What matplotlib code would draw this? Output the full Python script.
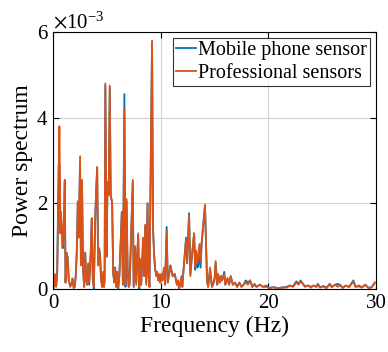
import numpy as np
import matplotlib.pyplot as plt
from matplotlib.ticker import ScalarFormatter

plt.rcParams['font.family'] = ['Liberation Serif', 'DejaVu Serif']
plt.rcParams['mathtext.fontset'] = 'stix'

# frequency (Hz), power spectrum values (x1e-3)
freq = [0.00, 0.09, 0.19, 0.28, 0.37, 0.51, 0.58, 0.68, 0.72, 0.80, 0.88, 0.98, 1.08, 1.15, 1.25,
        1.35, 1.45, 1.58, 1.70, 1.80, 1.90, 2.00, 2.10, 2.20, 2.29, 2.38, 2.50, 2.58, 2.68, 2.78,
        2.88, 2.98, 3.07, 3.16, 3.25, 3.35, 3.50, 3.59, 3.68, 3.78, 3.90, 4.00, 4.09, 4.18, 4.27,
        4.36, 4.45, 4.55, 4.65, 4.72, 4.78, 4.85, 4.97, 5.05, 5.16, 5.26, 5.35, 5.48, 5.58, 5.67,
        5.76, 5.86, 5.95, 6.05, 6.15, 6.25, 6.38, 6.48, 6.62, 6.72, 6.82, 6.92, 7.02, 7.10, 7.20,
        7.40, 7.48, 7.62, 7.72, 7.90, 8.00, 8.08, 8.18, 8.36, 8.45, 8.55, 8.65, 8.77, 8.86, 8.95,
        9.19, 9.28, 9.38, 9.47, 9.58, 9.66, 9.76, 9.85, 9.94, 10.05, 10.15, 10.30, 10.40, 10.55, 10.65,
        10.90, 11.10, 11.30, 11.50, 11.60, 11.70, 11.95, 12.00, 12.10, 12.35, 12.45, 12.63, 12.75, 12.90, 13.10,
        13.20, 13.30, 13.40, 13.50, 13.60, 13.70, 13.80, 14.11, 14.30, 14.40, 14.58, 14.75, 14.85, 15.00, 15.10,
        15.25, 15.35, 15.50, 15.60, 15.70, 15.90, 16.00, 16.20, 16.35, 16.50, 16.70, 16.90, 17.10, 17.30, 17.50,
        17.70, 17.90, 18.10, 18.30, 18.50, 18.70, 18.90, 19.20, 19.50, 19.80, 20.10, 20.50, 20.90, 21.30, 21.70,
        22.00, 22.30, 22.60, 22.80, 23.00, 23.20, 23.40, 23.70, 23.95, 24.20, 24.45, 24.60, 24.80, 25.10, 25.40,
        25.70, 25.90, 26.20, 26.45, 26.70, 26.90, 27.20, 27.50, 27.90, 28.10, 28.40, 28.70, 29.00, 29.30, 29.60,
        29.90]

professional = [0.00, 0.10, 0.35, 0.05, 0.30, 2.50, 3.80, 1.30, 1.80, 1.50, 1.00, 1.40, 2.55, 0.15, 0.85,
                0.70, 0.20, 0.05, 0.10, 0.25, 0.02, 0.05, 0.30, 0.90, 2.05, 1.20, 3.10, 0.55, 2.55, 0.50,
                0.05, 0.85, 0.20, 0.10, 0.60, 0.15, 0.90, 1.65, 0.20, 0.05, 1.60, 2.35, 2.85, 0.55, 0.95,
                0.75, 0.20, 0.05, 0.40, 0.05, 0.20, 4.80, 0.75, 2.50, 2.20, 4.75, 2.15, 2.05, 0.40, 0.15,
                0.50, 0.05, 0.40, 0.05, 0.30, 0.90, 1.80, 0.10, 4.20, 0.10, 2.10, 0.50, 0.05, 0.10, 0.90,
                2.55, 0.05, 1.00, 0.10, 1.30, 0.05, 0.70, 0.10, 1.20, 0.30, 1.50, 0.10, 2.00, 0.30, 0.05,
                5.80, 1.40, 0.80, 0.50, 0.30, 0.40, 0.20, 0.35, 0.15, 0.35, 0.20, 0.50, 0.10, 1.35, 0.15,
                0.55, 0.30, 0.35, 0.10, 0.20, 0.00, 0.30, 0.05, 0.40, 1.15, 0.60, 1.72, 0.30, 0.80, 1.30,
                0.50, 0.90, 0.60, 0.75, 1.05, 0.65, 1.10, 1.97, 0.20, 0.05, 0.50, 0.05, 0.10, 0.20, 0.65,
                0.10, 0.35, 0.15, 0.30, 0.20, 0.35, 0.10, 0.25, 0.10, 0.30, 0.10, 0.15, 0.05, 0.15, 0.05,
                0.10, 0.15, 0.10, 0.20, 0.05, 0.10, 0.05, 0.10, 0.05, 0.05, 0.02, 0.04, 0.02, 0.04, 0.03,
                0.08, 0.05, 0.15, 0.10, 0.18, 0.12, 0.05, 0.08, 0.03, 0.08, 0.05, 0.10, 0.03, 0.06, 0.02,
                0.10, 0.04, 0.10, 0.05, 0.10, 0.02, 0.08, 0.04, 0.18, 0.05, 0.06, 0.03, 0.10, 0.02, 0.04,
                0.15]

mobile = [0.00, 0.10, 0.30, 0.10, 0.30, 2.90, 2.90, 1.30, 1.60, 1.40, 0.95, 1.30, 2.50, 0.15, 0.80,
          0.75, 0.20, 0.10, 0.10, 0.20, 0.05, 0.05, 0.30, 0.90, 2.00, 1.25, 2.90, 0.60, 2.50, 0.45,
          0.05, 0.85, 0.20, 0.10, 0.55, 0.10, 0.90, 1.65, 0.25, 0.00, 1.55, 2.30, 2.80, 0.60, 0.95,
          0.80, 0.30, 0.05, 0.35, 0.05, 0.20, 4.75, 0.80, 2.45, 2.20, 4.70, 2.20, 2.00, 0.35, 0.20,
          0.50, 0.05, 0.40, 0.00, 0.30, 0.95, 1.80, 0.10, 4.55, 0.05, 2.05, 0.45, 0.05, 0.10, 0.85,
          2.50, 0.05, 0.95, 0.15, 1.25, 0.00, 0.65, 0.10, 1.15, 0.35, 1.45, 0.15, 2.00, 0.35, 0.05,
          5.75, 1.40, 0.85, 0.45, 0.35, 0.40, 0.20, 0.30, 0.15, 0.35, 0.20, 0.45, 0.10, 1.45, 0.15,
          0.55, 0.30, 0.35, 0.10, 0.20, 0.00, 0.30, 0.05, 0.40, 1.20, 0.60, 1.77, 0.35, 0.75, 1.30,
          0.45, 0.85, 0.50, 0.55, 1.00, 0.50, 1.05, 1.95, 0.20, 0.05, 0.45, 0.05, 0.10, 0.25, 0.60,
          0.10, 0.30, 0.15, 0.30, 0.20, 0.40, 0.10, 0.25, 0.10, 0.30, 0.10, 0.15, 0.05, 0.15, 0.05,
          0.10, 0.20, 0.15, 0.20, 0.05, 0.12, 0.05, 0.10, 0.05, 0.08, 0.03, 0.04, 0.02, 0.03, 0.05,
          0.08, 0.06, 0.18, 0.12, 0.20, 0.13, 0.06, 0.08, 0.05, 0.08, 0.05, 0.12, 0.04, 0.07, 0.03,
          0.12, 0.05, 0.10, 0.12, 0.08, 0.03, 0.08, 0.05, 0.20, 0.05, 0.08, 0.04, 0.10, 0.03, 0.04,
          0.15]

freq = np.array(freq)
professional = np.array(professional) * 1e-3
mobile = np.array(mobile) * 1e-3

fig = plt.figure(figsize=(3.88, 3.52), dpi=100)
ax = fig.add_axes([0.137, 0.179, 0.832, 0.730])

ax.plot(freq, mobile, color='#0072BD', lw=1.3, label='Mobile phone sensor')
ax.plot(freq, professional, color='#D95319', lw=1.3, label='Professional sensors')

ax.set_xlim(0, 30)
ax.set_ylim(0, 6e-3)
ax.set_xticks([0, 10, 20, 30])
ax.set_yticks([0, 2e-3, 4e-3, 6e-3])

fmt = ScalarFormatter(useMathText=True)
fmt.set_powerlimits((-2, 2))
ax.yaxis.set_major_formatter(fmt)
ax.yaxis.get_offset_text().set_fontsize(15)

ax.grid(True, color='#d0d0d0', lw=0.8)
ax.set_axisbelow(True)
ax.tick_params(direction='in', top=True, right=True, labelsize=15, length=4, width=0.8)
for s in ax.spines.values():
    s.set_linewidth(0.8)

ax.set_xlabel('Frequency (Hz)', fontsize=17, labelpad=2)
ax.set_ylabel('Power spectrum', fontsize=17, labelpad=2)

leg = ax.legend(loc='upper right', fontsize=14.5, frameon=True, fancybox=False,
                edgecolor='black', handlelength=1.0, handletextpad=0.1,
                borderpad=0.15, labelspacing=0.2, borderaxespad=0.3)
leg.get_frame().set_linewidth(0.8)

fig.savefig('out.png', dpi=100)
